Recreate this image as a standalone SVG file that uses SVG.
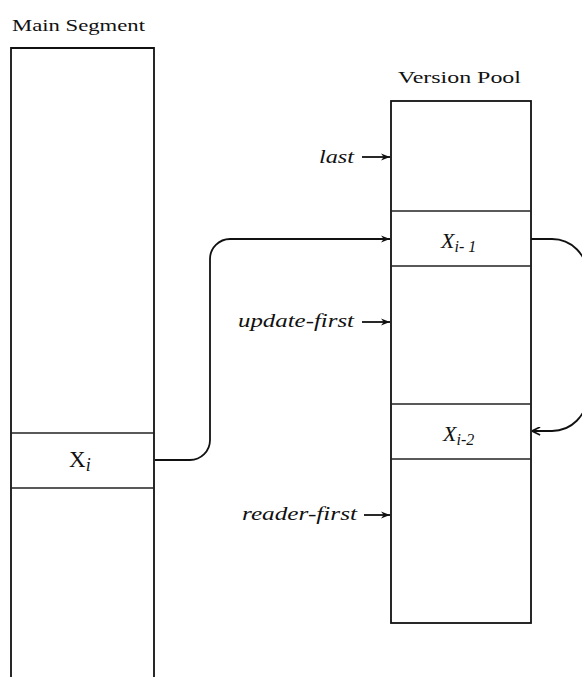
<svg xmlns="http://www.w3.org/2000/svg" width="582" height="677" viewBox="0 0 582 677">
<style>
.box{fill:none;stroke:#111;stroke-width:1.8}
.div{stroke:#222;stroke-width:1.4}
.conn{fill:none;stroke:#111;stroke-width:1.8}
.t{font-family:"Liberation Serif","DejaVu Serif",serif;fill:#111}
.it{font-style:italic}
</style>
<defs>
<marker id="ah" viewBox="0 0 10 10" refX="10" refY="5" markerWidth="9" markerHeight="9" markerUnits="userSpaceOnUse" orient="auto">
<path d="M0,1 L10,5 L0,9 L3,5 Z" fill="#111"/>
</marker>
<marker id="ao" viewBox="0 0 10 10" refX="10" refY="5" markerWidth="9" markerHeight="9" markerUnits="userSpaceOnUse" orient="auto">
<path d="M1,0.5 L10,5 L1,9.5" fill="none" stroke="#111" stroke-width="1.8"/>
</marker>
</defs>
<rect width="582" height="677" fill="#fff"/>
<g id="main-segment">
<text class="t" x="12" y="31" font-size="17" textLength="133" lengthAdjust="spacingAndGlyphs">Main Segment</text>
<path class="box" d="M11,677 V48 H154 V677"/>
<line class="div" x1="11" y1="433" x2="154" y2="433"/>
<line class="div" x1="11" y1="488" x2="154" y2="488"/>
<text class="t" x="69" y="467" font-size="23">X<tspan class="it" font-size="18" dy="4">i</tspan></text>
</g>
<g id="version-pool">
<text class="t" x="398" y="83" font-size="16" textLength="123" lengthAdjust="spacingAndGlyphs">Version Pool</text>
<rect class="box" x="391" y="101" width="140" height="522"/>
<line class="div" x1="391" y1="211" x2="531" y2="211"/>
<line class="div" x1="391" y1="266" x2="531" y2="266"/>
<line class="div" x1="391" y1="404" x2="531" y2="404"/>
<line class="div" x1="391" y1="459" x2="531" y2="459"/>
<text class="t it" x="441" y="248" font-size="22">X<tspan font-size="16" dy="4">i- 1</tspan></text>
<text class="t it" x="443" y="441" font-size="22">X<tspan font-size="16" dy="4">i-2</tspan></text>
</g>
<g id="labels">
<text class="t it" x="319" y="163" font-size="18" textLength="35" lengthAdjust="spacingAndGlyphs">last</text>
<text class="t it" x="238" y="327" font-size="18" textLength="116" lengthAdjust="spacingAndGlyphs">update-first</text>
<text class="t it" x="242" y="520" font-size="18" textLength="115" lengthAdjust="spacingAndGlyphs">reader-first</text>
</g>
<g id="connectors">
<line class="conn" x1="362" y1="157" x2="390" y2="157" marker-end="url(#ah)"/>
<line class="conn" x1="362" y1="322" x2="390" y2="322" marker-end="url(#ah)"/>
<line class="conn" x1="364" y1="515" x2="390" y2="515" marker-end="url(#ah)"/>
<path class="conn" d="M155,460 H190 A20,20 0 0 0 210,440 V259 A20,20 0 0 1 230,239 H390" marker-end="url(#ah)"/>
<path class="conn" d="M531,239 H552 A35,35 0 0 1 587,274 V396 A35,35 0 0 1 552,431 H532" marker-end="url(#ao)"/>
</g>
</svg>
